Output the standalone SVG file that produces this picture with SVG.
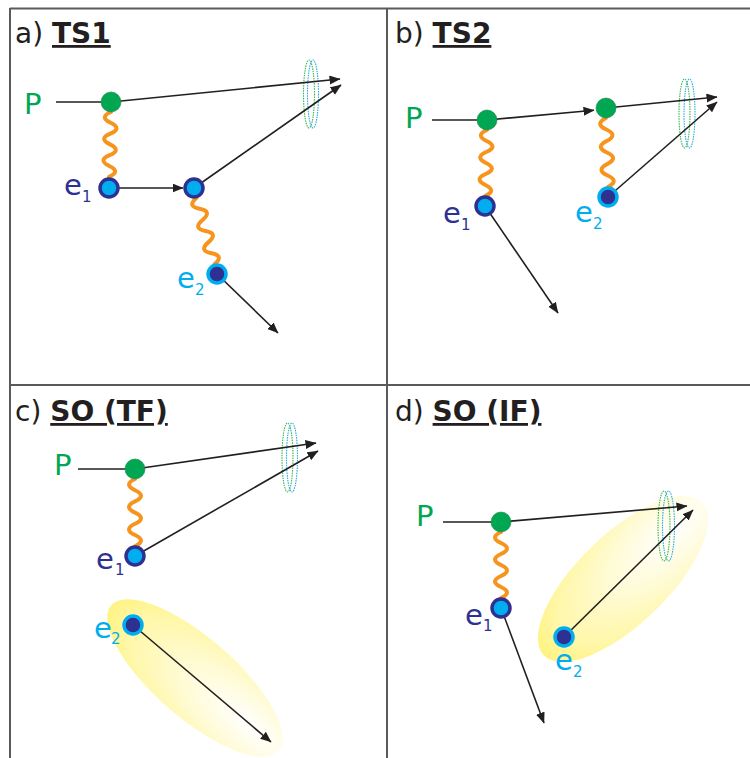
<svg xmlns="http://www.w3.org/2000/svg" width="750" height="758" viewBox="0 0 750 758">
  <defs>
    <marker id="arrow" markerUnits="userSpaceOnUse" markerWidth="12" markerHeight="10" refX="10.5" refY="4.5" orient="auto">
      <path d="M0,0 L11,4.5 L0,9 Z" fill="#231f20"/>
    </marker>
    <radialGradient id="glow" cx="0.82" cy="0.5" r="0.92">
      <stop offset="0" stop-color="#ffffff"/>
      <stop offset="0.4" stop-color="#fffbd6"/>
      <stop offset="0.75" stop-color="#fff7a8"/>
      <stop offset="0.92" stop-color="#fff27a"/>
      <stop offset="1" stop-color="#ffed3a"/>
    </radialGradient>
    <style>
      .frame { stroke: #5a5a5a; stroke-width: 2; fill: none; }
      .title { font-family: "DejaVu Sans", Verdana, sans-serif; font-size: 28px; fill: #231f20; }
      .title .b { font-weight: bold; text-decoration: underline; }
      .lbl { font-family: "DejaVu Sans", Verdana, sans-serif; font-size: 29px; }
      .sub { font-size: 15px; }
      .pc { fill: #00a651; }
      .e1c { fill: #2e3192; }
      .e2c { fill: #00aeef; }
      .line { stroke: #231f20; stroke-width: 1.6; fill: none; }
      .arr { stroke: #231f20; stroke-width: 1.6; fill: none; marker-end: url(#arrow); }
      .wave { stroke: #f7941d; stroke-width: 4; fill: none; stroke-linecap: round; stroke-linejoin: round; }
      .ring-g { fill: none; stroke: #39b54a; stroke-width: 1.1; stroke-dasharray: 1.5 1; }
      .ring-b { fill: none; stroke: #27aae1; stroke-width: 1.1; stroke-dasharray: 1.5 1; }
      .nP { fill: #00a651; stroke: #1b8a48; stroke-width: 0.6; }
      .nE1 { fill: #00aeef; stroke: #2e3192; stroke-width: 3.5; }
      .nE2 { fill: #2e3192; stroke: #00aeef; stroke-width: 3.5; }
    </style>
  </defs>
  <rect width="750" height="758" fill="#ffffff"/>

  <!-- panel frame -->
  <g id="frame">
    <line class="frame" x1="10" y1="8.5" x2="750" y2="8.5"/>
    <line class="frame" x1="10" y1="8" x2="10" y2="758"/>
    <line class="frame" x1="387" y1="8" x2="387" y2="758"/>
    <line class="frame" x1="10" y1="385" x2="750" y2="385"/>
  </g>

  <!-- titles -->
  <g id="titles">
    <text class="title" x="15" y="43">a) <tspan class="b">TS1</tspan></text>
    <text class="title" x="395" y="43">b) <tspan class="b">TS2</tspan></text>
    <text class="title" x="15" y="421">c) <tspan class="b">SO (TF)</tspan></text>
    <text class="title" x="395" y="421">d) <tspan class="b">SO (IF)</tspan></text>
  </g>

  <!-- correlated-emission clouds -->
  <g id="clouds">
    <ellipse cx="195" cy="678" rx="111" ry="40" transform="rotate(41 195 678)" fill="url(#glow)"/>
    <ellipse cx="623" cy="579" rx="110" ry="45" transform="rotate(-44 623 579)" fill="url(#glow)"/>
  </g>

  <!-- detector rings -->
  <g id="rings">
    <ellipse class="ring-g" cx="309" cy="94" rx="5.5" ry="34"/>
    <ellipse class="ring-b" cx="313" cy="94" rx="5.5" ry="34"/>
    <ellipse class="ring-g" cx="684.5" cy="113.5" rx="5.5" ry="34.5"/>
    <ellipse class="ring-b" cx="689.5" cy="113.5" rx="5.5" ry="34.5"/>
    <ellipse class="ring-g" cx="287.5" cy="457.5" rx="5.5" ry="34.5"/>
    <ellipse class="ring-b" cx="292" cy="457.5" rx="5.5" ry="34.5"/>
    <ellipse class="ring-g" cx="664" cy="526" rx="6" ry="35"/>
    <ellipse class="ring-b" cx="668.5" cy="526" rx="6" ry="35"/>
  </g>

  <!-- connectors -->
  <g id="connectors">
    <!-- a) TS1 -->
    <line class="line" x1="56" y1="102" x2="111" y2="102"/>
    <line class="arr" x1="111" y1="102" x2="340" y2="79"/>
    <line class="arr" x1="119" y1="188" x2="183" y2="188"/>
    <line class="arr" x1="194" y1="188" x2="341" y2="85"/>
    <line class="arr" x1="217" y1="274" x2="278" y2="333"/>
    <path class="wave" transform="translate(111 112) rotate(1.8)" d="M0,0 q-12,5.4 0,10.8 t0,10.8 t0,10.8 t0,10.8 t0,10.8 t0,10.8"/>
    <path class="wave" transform="translate(196.6 197.7) rotate(-15)" d="M0,0 q-12,5.75 0,11.5 t0,11.5 t0,11.5 t0,11.5 t0,11.5 t0,11.5"/>

    <!-- b) TS2 -->
    <line class="line" x1="432" y1="120" x2="487" y2="120"/>
    <line class="arr" x1="487" y1="120" x2="594" y2="110.2"/>
    <line class="arr" x1="606" y1="108" x2="717" y2="97"/>
    <line class="arr" x1="485" y1="206" x2="558" y2="313"/>
    <line class="arr" x1="608" y1="197" x2="717" y2="102"/>
    <path class="wave" transform="translate(487 130) rotate(1.7)" d="M0,0 q-12,5.5 0,11 t0,11 t0,11 t0,11 t0,11 t0,11"/>
    <path class="wave" transform="translate(606 118) rotate(-1.6)" d="M0,0 q-12,5.75 0,11.5 t0,11.5 t0,11.5 t0,11.5 t0,11.5 t0,11.5"/>

    <!-- c) SO (TF) -->
    <line class="line" x1="78" y1="469" x2="135" y2="469"/>
    <line class="arr" x1="135" y1="469" x2="316" y2="443"/>
    <line class="arr" x1="135" y1="556" x2="318" y2="451"/>
    <line class="arr" x1="133" y1="625" x2="271" y2="742"/>
    <path class="wave" transform="translate(135 479)" d="M0,0 q-12,5.6 0,11.2 t0,11.2 t0,11.2 t0,11.2 t0,11.2 t0,11.2"/>

    <!-- d) SO (IF) -->
    <line class="line" x1="443" y1="522" x2="501" y2="522"/>
    <line class="arr" x1="501" y1="522" x2="687" y2="506"/>
    <line class="arr" x1="501" y1="608" x2="544" y2="723"/>
    <line class="arr" x1="564" y1="637" x2="693" y2="510"/>
    <path class="wave" transform="translate(501 532)" d="M0,0 q-12,5.5 0,11 t0,11 t0,11 t0,11 t0,11 t0,11"/>
  </g>

  <!-- a) TS1 nodes -->
  <g id="a-P"><circle class="nP" cx="111" cy="102" r="10"/><text class="lbl pc" x="24" y="114">P</text></g>
  <g id="a-e1"><circle class="nE1" cx="109" cy="188" r="9"/><text class="lbl e1c" x="64" y="195">e<tspan class="sub" x="82" y="202">1</tspan></text></g>
  <g id="a-e1b"><circle class="nE1" cx="194" cy="188" r="9"/></g>
  <g id="a-e2"><circle class="nE2" cx="217" cy="274" r="9"/><text class="lbl e2c" x="177" y="288">e<tspan class="sub" x="195" y="295">2</tspan></text></g>

  <!-- b) TS2 nodes -->
  <g id="b-P"><circle class="nP" cx="487" cy="120" r="10"/><text class="lbl pc" x="405" y="128">P</text></g>
  <g id="b-Pb"><circle class="nP" cx="606" cy="108" r="10"/></g>
  <g id="b-e1"><circle class="nE1" cx="485" cy="206" r="9"/><text class="lbl e1c" x="443" y="223">e<tspan class="sub" x="461" y="230">1</tspan></text></g>
  <g id="b-e2"><circle class="nE2" cx="608" cy="197" r="9"/><text class="lbl e2c" x="575" y="222">e<tspan class="sub" x="593" y="229">2</tspan></text></g>

  <!-- c) SO (TF) nodes -->
  <g id="c-P"><circle class="nP" cx="135" cy="469" r="10"/><text class="lbl pc" x="54" y="475">P</text></g>
  <g id="c-e1"><circle class="nE1" cx="135" cy="556" r="9"/><text class="lbl e1c" x="96" y="569">e<tspan class="sub" x="115" y="575">1</tspan></text></g>
  <g id="c-e2"><circle class="nE2" cx="133" cy="625" r="9"/><text class="lbl e2c" x="94" y="638">e<tspan class="sub" x="111" y="644">2</tspan></text></g>

  <!-- d) SO (IF) nodes -->
  <g id="d-P"><circle class="nP" cx="501" cy="522" r="10"/><text class="lbl pc" x="416" y="526">P</text></g>
  <g id="d-e1"><circle class="nE1" cx="501" cy="608" r="9"/><text class="lbl e1c" x="465" y="625">e<tspan class="sub" x="483" y="631">1</tspan></text></g>
  <g id="d-e2"><circle class="nE2" cx="564" cy="637" r="9"/><text class="lbl e2c" x="555" y="670">e<tspan class="sub" x="573" y="677">2</tspan></text></g>
</svg>
